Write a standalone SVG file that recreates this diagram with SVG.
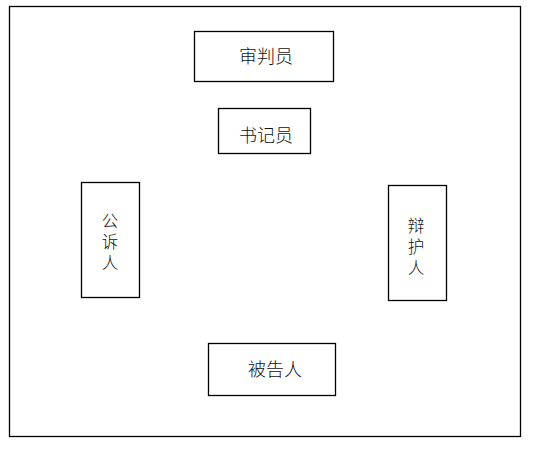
<svg xmlns="http://www.w3.org/2000/svg" width="541" height="450" viewBox="0 0 541 450">
<style>
.box{fill:#fff;stroke:#000;stroke-width:1.3}
.t{font-family:"Liberation Sans","Noto Sans CJK SC","Noto Sans CJK JP",sans-serif;font-size:18px;fill:#111;text-anchor:middle;font-weight:300}
.v{font-size:16.5px}
</style>
<rect width="541" height="450" fill="#fff"/>
<g id="hall"><rect class="box" x="9.5" y="6.5" width="511" height="430"/></g>
<g id="judge"><rect class="box" x="194.5" y="31.5" width="139" height="50"/><text class="t" x="266" y="63">审判员</text></g>
<g id="clerk"><rect class="box" x="218.5" y="108.5" width="92" height="45"/><text class="t" x="266" y="142">书记员</text></g>
<g id="prosecutor"><rect class="box" x="81.5" y="182.5" width="58" height="115"/>
<text class="t v" x="110" y="227">公</text><text class="t v" x="110" y="248">诉</text><text class="t v" x="110" y="269">人</text></g>
<g id="defender"><rect class="box" x="388.5" y="185.5" width="58" height="115"/>
<text class="t v" x="416" y="232">辩</text><text class="t v" x="416" y="253">护</text><text class="t v" x="416" y="274">人</text></g>
<g id="defendant"><rect class="box" x="208.5" y="343.5" width="127" height="52"/><text class="t" x="275" y="376">被告人</text></g>
<g id="connectors"></g>
</svg>
